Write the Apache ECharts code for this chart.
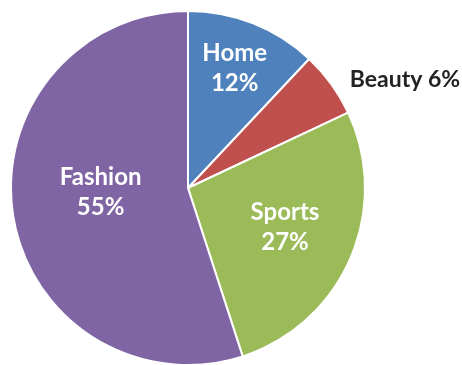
<!DOCTYPE html>
<html>
<head>
<meta charset="utf-8">
<script src="https://cdn.jsdelivr.net/npm/echarts@6/dist/echarts.min.js"></script>
<style>
  html, body { margin: 0; padding: 0; background: #fff; }
  #chart { width: 462px; height: 365px; }
</style>
</head>
<body>
<div id="chart"></div>
<script>
// Share of sales by category
const categories = ['Home', 'Beauty', 'Sports', 'Fashion'];
const shares = [12, 6, 27, 55];
const colors = ['#4F81BD', '#C0504D', '#9BBB59', '#7F65A3'];

// Label nudges from the default inside position (px)
const labelShift = [[13, -35], [143, -55], [13, 3], [3, -10]];

const chart = echarts.init(document.getElementById('chart'));
chart.setOption({
  animation: false,
  series: [{
    type: 'pie',
    center: [188, 188],
    radius: 177,
    startAngle: 90,
    clockwise: true,
    avoidLabelOverlap: false,
    itemStyle: { borderColor: '#fff', borderWidth: 2 },
    label: {
      show: true,
      position: 'inside',
      fontFamily: 'Lato',
      fontWeight: 'bold',
      fontSize: 24,
      lineHeight: 30,
      color: '#fff',
      formatter: p => p.name + '\n' + p.value + '%'
    },
    labelLine: { show: false },
    emphasis: { disabled: true },
    labelLayout: p => ({ dx: labelShift[p.dataIndex][0], dy: labelShift[p.dataIndex][1] }),
    data: categories.map((c, i) => {
      const item = { name: c, value: shares[i], itemStyle: { color: colors[i] } };
      if (c === 'Beauty') {
        item.label = { color: '#222', fontSize: 23, formatter: p => p.name + ' ' + p.value + '%' };
      }
      return item;
    })
  }]
});
</script>
</body>
</html>
